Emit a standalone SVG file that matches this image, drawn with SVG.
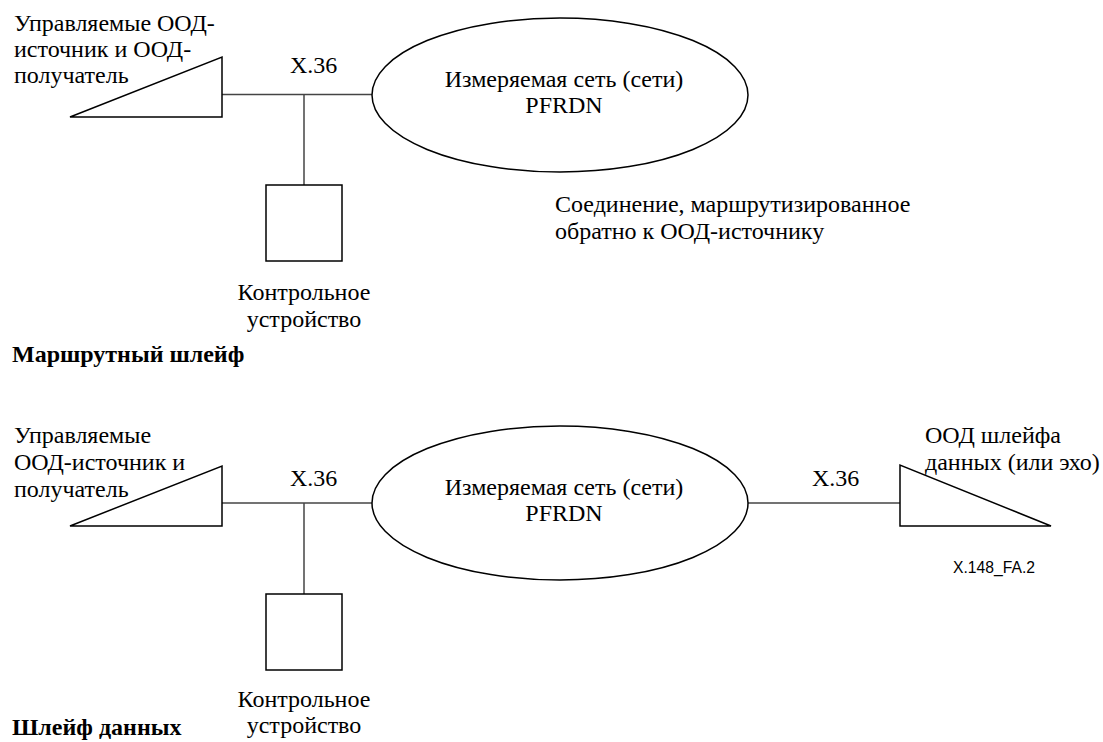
<svg xmlns="http://www.w3.org/2000/svg" width="1103" height="742" viewBox="0 0 1103 742">
<style>
text{font-family:"Liberation Serif","Times New Roman",serif;font-size:24px;fill:#000}
.b{font-weight:bold}
.m{text-anchor:middle}
.a{font-family:"Liberation Sans",Arial,sans-serif;font-size:15.7px}
.s{fill:#fff;stroke:#000;stroke-width:1.5}
.c{fill:none;stroke:#444;stroke-width:1.5}
</style>
<rect width="1103" height="742" fill="#fff"/>
<g id="connectors">
<line class="c" x1="222" y1="94.5" x2="372" y2="94.5"/>
<line class="c" x1="304" y1="94.5" x2="304" y2="185"/>
<line class="c" x1="222" y1="503" x2="372" y2="503"/>
<line class="c" x1="304" y1="503" x2="304" y2="594"/>
<line class="c" x1="748" y1="503" x2="900" y2="503"/>
<text x="290" y="73">X.36</text>
<text x="290" y="486">X.36</text>
<text x="812" y="486">X.36</text>
</g>
<g id="dte1">
<polygon class="s" points="70,117 222,57 222,117"/>
<text x="14" y="31">Управляемые ООД-</text>
<text x="14" y="57">источник и ООД-</text>
<text x="14" y="83">получатель</text>
</g>
<g id="ctrl1">
<rect class="s" x="266" y="185" width="76" height="76"/>
<text class="m" x="304" y="300">Контрольное</text>
<text class="m" x="304" y="327">устройство</text>
</g>
<g id="net1">
<ellipse class="s" cx="560" cy="95" rx="188" ry="77"/>
<text class="m" x="564" y="87">Измеряемая сеть (сети)</text>
<text class="m" x="564" y="113">PFRDN</text>
</g>
<g id="note1">
<text x="555" y="212">Соединение, маршрутизированное</text>
<text x="555" y="239">обратно к ООД-источнику</text>
</g>
<text class="b" x="12" y="362">Маршрутный шлейф</text>
<g id="dte2">
<polygon class="s" points="70,526 222,466 222,526"/>
<text x="14" y="443">Управляемые</text>
<text x="14" y="470">ООД-источник и</text>
<text x="14" y="497">получатель</text>
</g>
<g id="ctrl2">
<rect class="s" x="266" y="594" width="76" height="76"/>
<text class="m" x="304" y="707">Контрольное</text>
<text class="m" x="304" y="733">устройство</text>
</g>
<g id="net2">
<ellipse class="s" cx="560" cy="503" rx="188" ry="77"/>
<text class="m" x="564" y="495">Измеряемая сеть (сети)</text>
<text class="m" x="564" y="521">PFRDN</text>
</g>
<g id="dte3">
<polygon class="s" points="900,465 900,526 1051,526"/>
<text x="925" y="443">ООД шлейфа</text>
<text x="925" y="470">данных (или эхо)</text>
</g>
<text class="a" x="953" y="573">X.148_FA.2</text>
<text class="b" x="12" y="735">Шлейф данных</text>
</svg>
